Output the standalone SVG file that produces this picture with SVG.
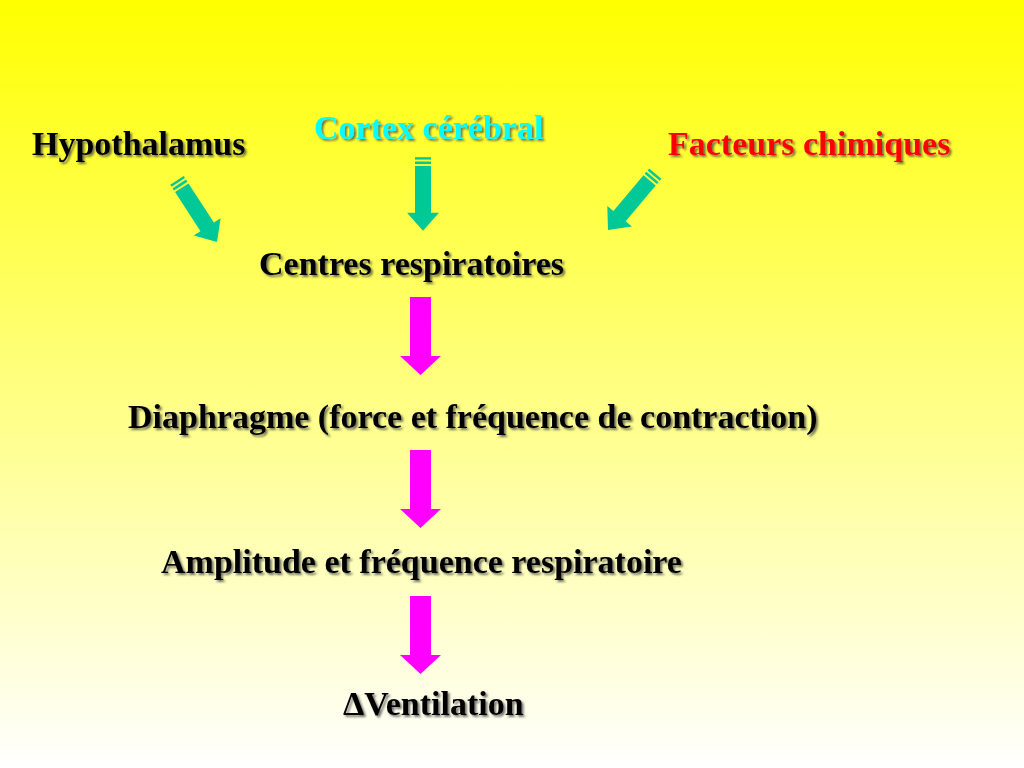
<svg xmlns="http://www.w3.org/2000/svg" width="1024" height="768" viewBox="0 0 1024 768">
  <defs>
    <linearGradient id="bg" x1="0" y1="0" x2="0" y2="1">
      <stop offset="0" stop-color="#FFFF00"/>
      <stop offset="1" stop-color="#FFFFFF"/>
    </linearGradient>
    <filter id="shadow" x="-5%" y="-20%" width="110%" height="140%">
      <feDropShadow dx="2" dy="2" stdDeviation="0.8" flood-color="#444444" flood-opacity="0.75"/>
    </filter>
    <g id="tealArrow">
      <rect x="-8" y="-73.5" width="16" height="2.4"/>
      <rect x="-8" y="-69.2" width="16" height="2.6"/>
      <polygon points="-8,-64.7 8,-64.7 8,-18 16,-18 0,0 -16,-18 -8,-18"/>
    </g>
    <polygon id="pinkArrow" points="-10.5,0 10.5,0 10.5,59 20.5,59 0,78 -20.5,59 -10.5,59"/>
  </defs>
  <style>
    .t { font-family: "Liberation Serif", "Times New Roman", serif; font-weight: bold; font-size: 34px; filter: url(#shadow); }
    .black { fill: #000000; }
    .cyan { fill: #00FFFF; }
    .red { fill: #FF0000; }
    .teal { fill: #00C896; }
    .pink { fill: #FF00FF; }
  </style>
  <rect x="0" y="0" width="1024" height="768" fill="url(#bg)"/>

  <g id="hypothalamus"><text class="t black" x="32" y="155">Hypothalamus</text></g>
  <g id="cortex"><text class="t cyan" x="314" y="139">Cortex cérébral</text></g>
  <g id="facteurs"><text class="t red" x="668" y="155">Facteurs chimiques</text></g>
  <g id="centres"><text class="t black" x="259" y="275">Centres respiratoires</text></g>
  <g id="diaphragme"><text class="t black" x="128" y="428">Diaphragme (force et fréquence de contraction)</text></g>
  <g id="amplitude"><text class="t black" x="161" y="573">Amplitude et fréquence respiratoire</text></g>
  <g id="ventilation"><text class="t black" x="343" y="715">ΔVentilation</text></g>

  <g id="connectors">
    <use href="#tealArrow" class="teal" transform="translate(217,242) rotate(-33)"/>
    <use href="#tealArrow" class="teal" transform="translate(423,230.7)"/>
    <use href="#tealArrow" class="teal" transform="translate(608,230) rotate(40)"/>
    <use href="#pinkArrow" class="pink" transform="translate(420.5,297)"/>
    <use href="#pinkArrow" class="pink" transform="translate(420.5,450)"/>
    <use href="#pinkArrow" class="pink" transform="translate(420.5,596)"/>
  </g>
</svg>
